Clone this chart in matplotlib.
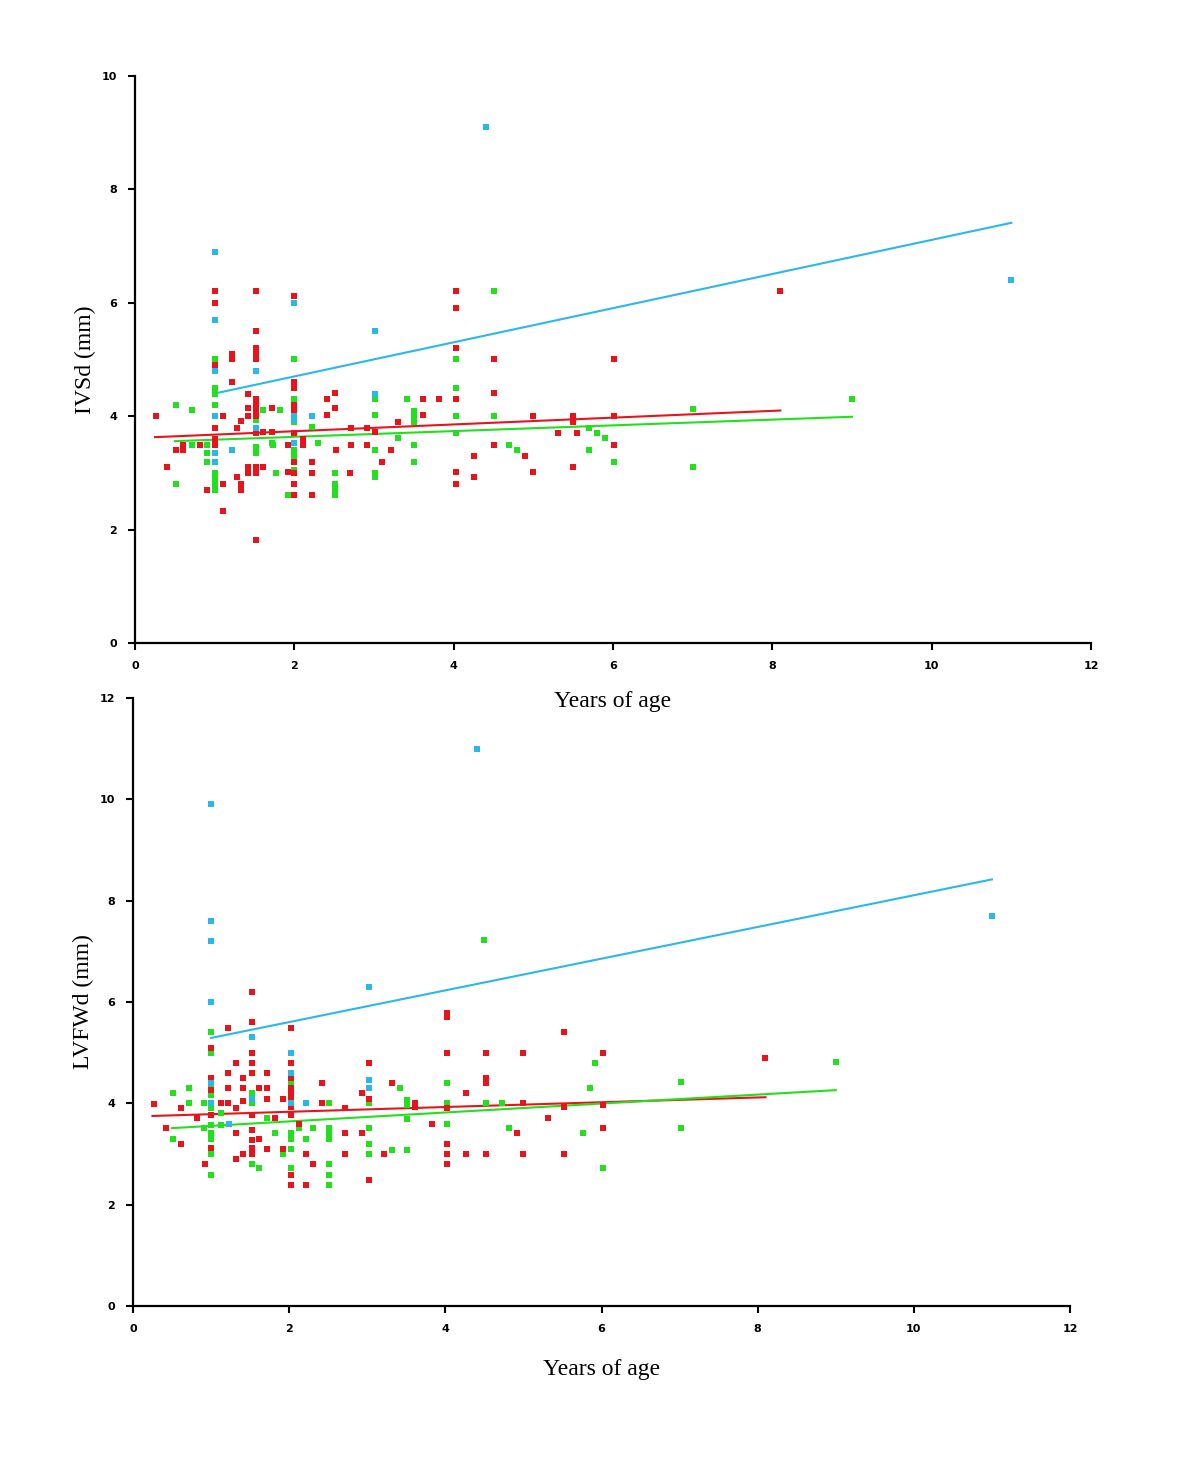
import matplotlib
matplotlib.use("Agg")
import matplotlib.pyplot as plt

# ---------------- Top panel: IVSd ----------------
ivs_cyan_x = [1.0, 1.0, 1.0, 1.0, 1.0, 1.0, 1.22, 1.52, 1.52, 2.0, 2.0, 2.0, 2.0, 2.22, 3.01, 3.01, 4.4, 11.0]
ivs_cyan_y = [6.9, 5.7, 4.8, 4.0, 3.35, 3.2, 3.4, 4.8, 3.8, 6.0, 4.0, 3.93, 3.53, 4.0, 5.5, 4.4, 9.1, 6.4]

ivs_red_x = [0.26, 0.4, 0.51, 0.6, 0.6, 0.82, 0.9, 1.0, 1.0, 1.0, 1.0, 1.0, 1.0, 1.1, 1.1, 1.1,
             1.22, 1.22, 1.22, 1.28, 1.28, 1.33, 1.33, 1.33, 1.42, 1.42, 1.42, 1.42, 1.42,
             1.52, 1.52, 1.52, 1.52, 1.52, 1.52, 1.52, 1.52, 1.52, 1.52, 1.52, 1.52, 1.52,
             1.61, 1.61, 1.72, 1.72, 1.92, 1.92, 2.0, 2.0, 2.0, 2.0, 2.0, 2.0, 2.0, 2.0, 2.0, 2.0,
             2.11, 2.11, 2.22, 2.22, 2.22, 2.41, 2.41, 2.51, 2.51, 2.52, 2.7, 2.71, 2.71, 2.91, 2.91,
             3.01, 3.1, 3.21, 3.3, 3.61, 3.61, 3.81, 4.03, 4.03, 4.03, 4.03, 4.03, 4.03, 4.25, 4.25,
             4.5, 4.5, 4.5, 4.9, 5.0, 5.0, 5.31, 5.5, 5.5, 5.55, 5.5, 6.01, 6.01, 6.01, 8.1]
ivs_red_y = [4.0, 3.1, 3.4, 3.49, 3.4, 3.49, 2.7, 6.2, 6.0, 4.9, 3.8, 3.6, 3.5, 4.0, 2.8, 2.33,
             5.1, 5.0, 4.6, 3.8, 2.93, 3.92, 2.8, 2.7, 4.4, 4.14, 4.0, 3.1, 3.0,
             6.2, 5.5, 5.2, 5.1, 5.0, 4.3, 4.2, 4.1, 4.0, 3.7, 3.1, 3.0, 1.82,
             3.72, 3.1, 4.14, 3.72, 3.49, 3.02, 6.12, 4.6, 4.5, 4.2, 4.1, 3.7, 3.2, 3.0, 2.8, 2.61,
             3.6, 3.5, 3.2, 3.0, 2.61, 4.3, 4.02, 4.41, 4.14, 3.4, 3.0, 3.49, 3.8, 3.49, 3.8,
             3.72, 3.2, 3.4, 3.9, 4.3, 4.02, 4.3, 6.2, 5.9, 5.2, 4.3, 3.02, 2.8, 3.3, 2.93,
             5.0, 4.41, 3.49, 3.3, 4.0, 3.02, 3.7, 4.0, 3.9, 3.7, 3.1, 5.0, 4.0, 3.5, 6.2]

ivs_green_x = [0.51, 0.51, 0.72, 0.72, 0.9, 0.9, 0.9, 1.0, 1.0, 1.0, 1.0, 1.0, 1.0, 1.0, 1.0, 1.0, 1.0, 1.0,
               1.52, 1.52, 1.52, 1.52, 1.61, 1.72, 1.73, 1.77, 1.82, 1.92, 2.0, 2.0, 2.0, 2.0, 2.0, 2.0,
               2.0, 2.0, 2.0, 2.0, 2.22, 2.3, 2.51, 2.51, 2.51, 2.51, 3.01, 3.01, 3.01, 3.01, 3.01,
               3.3, 3.41, 3.5, 3.5, 3.5, 3.5, 3.5, 4.03, 4.03, 4.03, 4.03, 4.5, 4.5, 4.7, 4.8,
               5.7, 5.8, 5.9, 5.7, 6.01, 7.0, 7.0, 9.0]
ivs_green_y = [4.2, 2.8, 4.11, 3.49, 3.49, 3.35, 3.2, 5.0, 4.5, 4.4, 4.2, 4.0, 3.8, 3.6, 3.0, 2.9, 2.8, 2.7,
               4.0, 3.93, 3.45, 3.35, 4.11, 3.53, 3.5, 3.0, 4.11, 2.61, 5.0, 4.3, 4.2, 4.1, 4.0, 3.9,
               3.4, 3.3, 3.2, 3.05, 3.81, 3.53, 3.0, 2.8, 2.7, 2.61, 4.3, 4.02, 3.4, 3.0, 2.93,
               3.62, 4.3, 4.1, 4.0, 3.9, 3.5, 3.2, 5.0, 4.5, 4.0, 3.7, 6.2, 4.0, 3.5, 3.4,
               3.8, 3.7, 3.62, 3.4, 3.2, 4.13, 3.1, 4.3]

# regression line end points
ivs_fit_cyan_x = [1.0, 11.0]
ivs_fit_cyan_y = [4.4, 7.41]
ivs_fit_red_x = [0.25, 8.1]
ivs_fit_red_y = [3.63, 4.1]
ivs_fit_green_x = [0.5, 9.0]
ivs_fit_green_y = [3.56, 3.99]

# ---------------- Bottom panel: LVFWd ----------------
lvf_cyan_x = [1.0, 1.0, 1.0, 1.0, 1.0, 1.0, 1.23, 1.52, 1.52, 2.03, 2.03, 2.03, 2.21, 3.02, 3.02, 3.02, 4.4, 11.0]
lvf_cyan_y = [9.9, 7.6, 7.2, 6.0, 4.4, 4.0, 3.6, 5.3, 4.08, 5.0, 4.6, 4.0, 4.0, 6.3, 4.46, 4.3, 11.0, 7.7]

lvf_red_x = [0.27, 0.42, 0.61, 0.61, 0.82, 0.92, 1.0, 1.0, 1.0, 1.0, 1.0, 1.0, 1.13, 1.22, 1.22, 1.22, 1.22,
             1.32, 1.32, 1.32, 1.32, 1.41, 1.41, 1.41, 1.41, 1.52, 1.52, 1.52, 1.52, 1.52, 1.52, 1.52, 1.52,
             1.52, 1.52, 1.62, 1.62, 1.72, 1.72, 1.72, 1.72, 1.82, 1.92, 1.92, 2.03, 2.03, 2.03, 2.03, 2.03,
             2.03, 2.03, 2.03, 2.03, 2.03, 2.13, 2.21, 2.21, 2.31, 2.42, 2.42, 2.71, 2.71, 2.71, 2.93, 2.93,
             3.02, 3.02, 3.02, 3.21, 3.32, 3.61, 3.61, 3.83, 4.02, 4.02, 4.02, 4.02, 4.02, 4.02, 4.02,
             4.26, 4.26, 4.52, 4.52, 4.52, 4.52, 4.92, 5.0, 5.0, 5.0, 5.32, 5.52, 5.52, 5.52, 6.02, 6.02,
             6.02, 8.1]
lvf_red_y = [3.98, 3.51, 3.9, 3.2, 3.7, 2.8, 5.09, 4.5, 4.26, 4.0, 3.77, 3.12, 4.0, 5.48, 4.6, 4.3, 4.0,
             4.79, 3.9, 3.41, 2.9, 4.5, 4.3, 4.05, 3.0, 6.2, 5.6, 5.0, 4.79, 4.6, 3.77, 3.47, 3.27,
             3.12, 3.0, 4.3, 3.3, 4.6, 4.3, 4.08, 3.1, 3.7, 4.08, 3.1, 5.48, 4.79, 4.5, 4.3, 4.2,
             4.08, 3.93, 3.77, 2.58, 2.39, 3.6, 3.0, 2.39, 2.8, 4.4, 4.0, 3.9, 3.41, 3.0, 4.2, 3.41,
             4.79, 4.08, 2.49, 3.0, 4.4, 4.0, 3.93, 3.59, 5.78, 5.7, 5.0, 3.9, 3.2, 3.0, 2.8,
             4.2, 3.0, 5.0, 4.5, 4.4, 3.0, 3.41, 5.0, 4.0, 3.0, 3.7, 5.4, 3.93, 3.0, 5.0, 3.96,
             3.51, 4.9]

lvf_green_x = [0.51, 0.51, 0.72, 0.72, 0.91, 0.91, 1.0, 1.0, 1.0, 1.0, 1.0, 1.0, 1.0, 1.0, 1.0, 1.0,
               1.13, 1.13, 1.52, 1.52, 1.52, 1.52, 1.62, 1.72, 1.82, 1.92, 2.03, 2.03, 2.03, 2.03, 2.03,
               2.03, 2.03, 2.03, 2.03, 2.13, 2.21, 2.31, 2.51, 2.51, 2.51, 2.51, 2.51, 2.51, 2.51,
               3.02, 3.02, 3.02, 3.02, 3.02, 3.32, 3.42, 3.51, 3.51, 3.51, 3.51, 4.02, 4.02, 4.02,
               4.5, 4.52, 4.72, 4.82, 5.76, 5.85, 5.92, 6.02, 7.02, 7.02, 9.0]
lvf_green_y = [4.2, 3.3, 4.3, 4.0, 4.0, 3.51, 5.4, 5.0, 4.36, 4.16, 3.9, 3.57, 3.41, 3.3, 3.0, 2.58,
               3.8, 3.57, 4.2, 4.06, 4.0, 2.8, 2.72, 3.7, 3.41, 3.0, 4.4, 4.3, 4.2, 4.0, 3.77,
               3.41, 3.3, 3.1, 2.72, 3.51, 3.3, 3.51, 4.0, 3.51, 3.41, 3.3, 2.8, 2.58, 2.39,
               4.3, 4.0, 3.51, 3.2, 3.0, 3.08, 4.3, 4.06, 3.96, 3.69, 3.08, 4.4, 4.0, 3.59,
               7.22, 4.0, 4.0, 3.51, 3.41, 4.3, 4.8, 2.72, 4.42, 3.51, 4.81]

lvf_fit_cyan_x = [1.0, 11.0]
lvf_fit_cyan_y = [5.29, 8.42]
lvf_fit_red_x = [0.25, 8.1]
lvf_fit_red_y = [3.75, 4.12]
lvf_fit_green_x = [0.5, 9.0]
lvf_fit_green_y = [3.51, 4.26]

x_ticks = [0, 2, 4, 6, 8, 10, 12]
ivs_y_ticks = [0, 2, 4, 6, 8, 10]
lvf_y_ticks = [0, 2, 4, 6, 8, 10, 12]

RED = "#e8141c"
GREEN = "#22e01e"
CYAN = "#2ab8ea"

fig = plt.figure(figsize=(12, 14.83), dpi=100)
ax1 = fig.add_axes([0.1125, 0.5664, 0.7967, 0.3824])
ax2 = fig.add_axes([0.1108, 0.1194, 0.7809, 0.4099])
ax2.set_facecolor("none")
ax1.set_facecolor("none")

label_font = dict(family="Liberation Serif", size=17)


def style(ax, yticks, ylabel, xpad):
    ax.set_xlim(0, 12)
    ax.set_ylim(yticks[0], yticks[-1])
    ax.set_xticks(x_ticks)
    ax.set_yticks(yticks)
    for s in ("top", "right"):
        ax.spines[s].set_visible(False)
    for s in ("left", "bottom"):
        ax.spines[s].set_linewidth(1.6)
        ax.spines[s].set_color("black")
    ax.tick_params(direction="out", length=5, width=1.5, labelsize=8, pad=8)
    for lab in ax.get_xticklabels() + ax.get_yticklabels():
        lab.set_fontweight("bold")
    ax.set_xlabel("Years of age", fontdict=label_font, labelpad=xpad)
    ax.set_ylabel(ylabel, fontdict=label_font, labelpad=4)


def draw(ax, series, fits):
    for (xs, ys, c) in series:
        ax.scatter(xs, ys, s=14, marker="s", color=c, linewidths=0, zorder=3, clip_on=False)
    for (xs, ys, c) in fits:
        ax.plot(xs, ys, color=c, lw=1.5, zorder=2)


draw(ax1,
     [(ivs_green_x, ivs_green_y, GREEN), (ivs_red_x, ivs_red_y, RED), (ivs_cyan_x, ivs_cyan_y, CYAN)],
     [(ivs_fit_cyan_x, ivs_fit_cyan_y, CYAN), (ivs_fit_red_x, ivs_fit_red_y, RED),
      (ivs_fit_green_x, ivs_fit_green_y, GREEN)])
style(ax1, ivs_y_ticks, "IVSd (mm)", 14)

draw(ax2,
     [(lvf_green_x, lvf_green_y, GREEN), (lvf_red_x, lvf_red_y, RED), (lvf_cyan_x, lvf_cyan_y, CYAN)],
     [(lvf_fit_cyan_x, lvf_fit_cyan_y, CYAN), (lvf_fit_red_x, lvf_fit_red_y, RED),
      (lvf_fit_green_x, lvf_fit_green_y, GREEN)])
style(ax2, lvf_y_ticks, "LVFWd (mm)", 18)

fig.savefig("out.png", dpi=100, facecolor="white")
